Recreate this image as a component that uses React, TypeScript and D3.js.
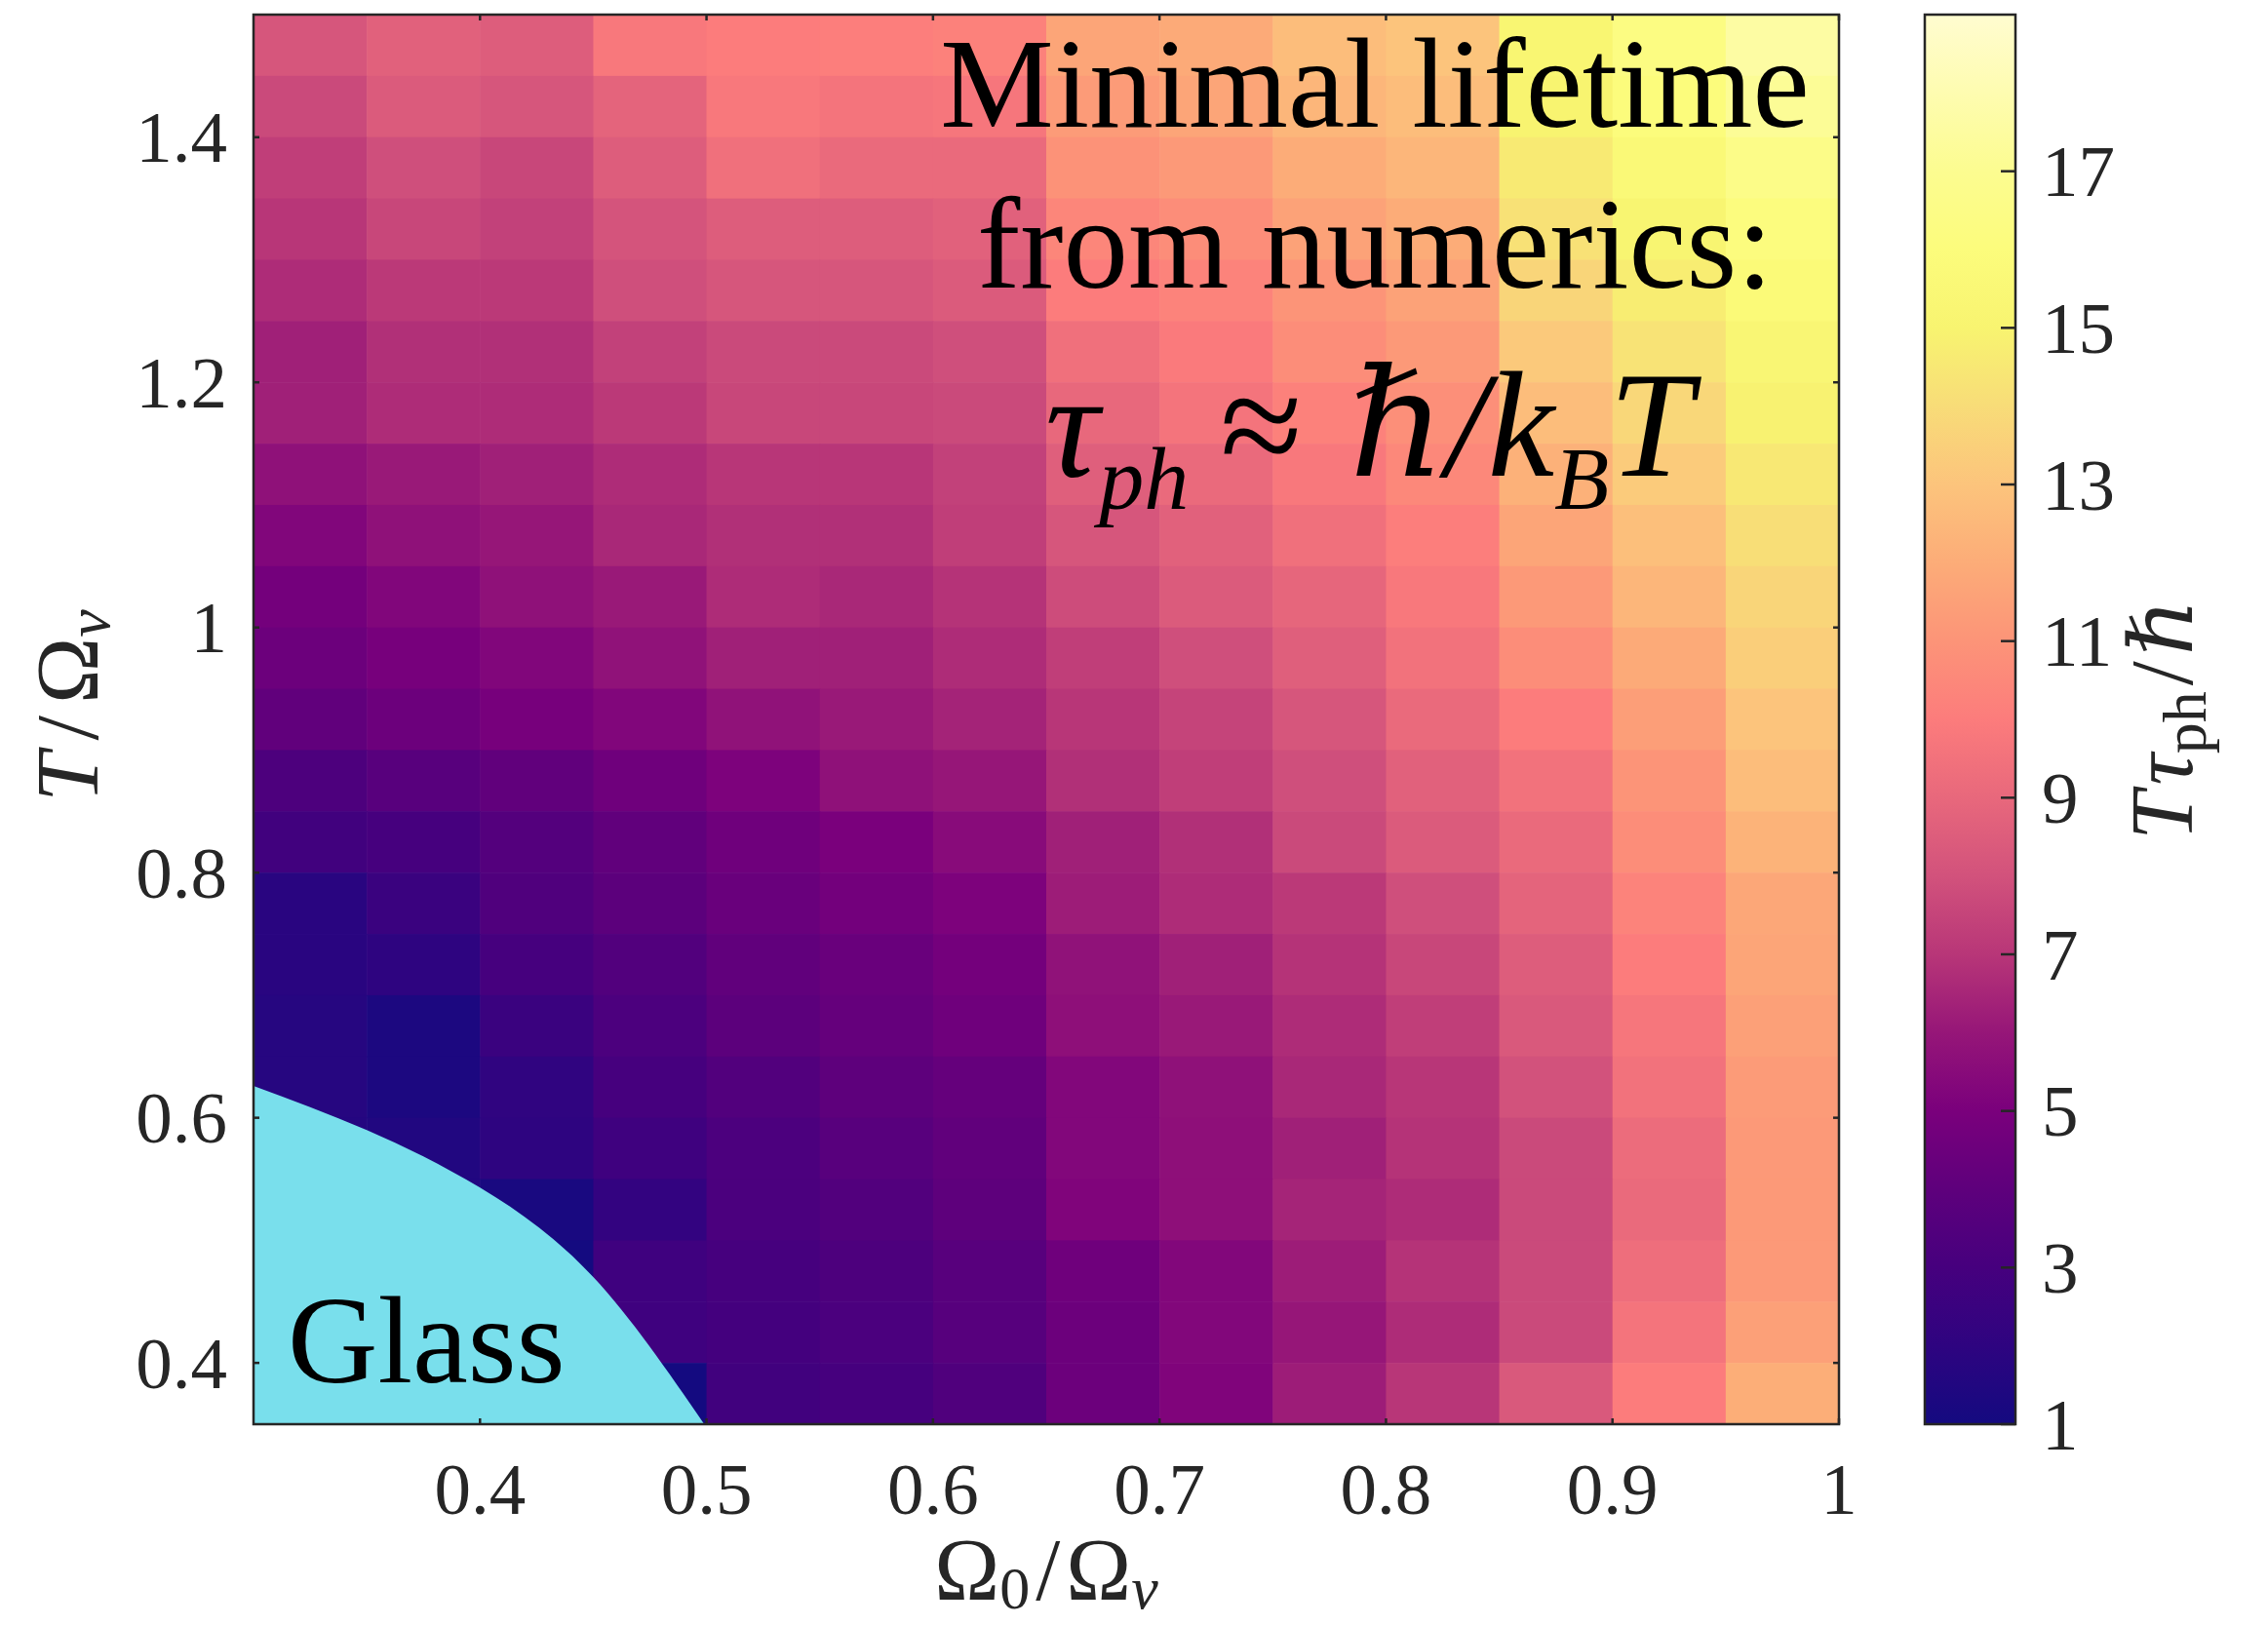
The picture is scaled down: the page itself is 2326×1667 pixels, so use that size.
import React, { useEffect, useRef } from "react";
import * as d3 from "d3";

// cell centres along Omega_0 / Omega_v (columns)
const omegaCenters = [0.325, 0.375, 0.425, 0.475, 0.525, 0.575, 0.625, 0.675, 0.725, 0.775, 0.825, 0.875, 0.925, 0.975];
// cell centres along T / Omega_v (rows, top to bottom)
const tempCenters = [
  1.475, 1.425, 1.375, 1.325, 1.275, 1.225, 1.175, 1.125, 1.075, 1.025, 0.975, 0.925,
  0.875, 0.825, 0.775, 0.725, 0.675, 0.625, 0.575, 0.525, 0.475, 0.425, 0.375,
];
const cellSize = 0.05;

// T * tau_ph / hbar, one row per temperature
const lifetime = [
  [8.2, 8.7, 8.5, 9.8, 10.0, 10.1, 10.2, 11.7, 11.9, 12.7, 13.0, 15.2, 16.3, 17.6],
  [7.7, 8.4, 8.2, 8.8, 9.8, 9.6, 9.7, 11.3, 11.7, 12.4, 12.7, 15.0, 16.0, 17.2],
  [7.3, 7.9, 7.6, 8.5, 9.4, 9.1, 9.1, 10.9, 11.2, 12.0, 12.4, 14.6, 15.6, 16.6],
  [7.0, 7.6, 7.4, 8.1, 8.5, 8.5, 8.7, 10.4, 10.7, 11.6, 12.0, 14.2, 15.1, 16.1],
  [6.7, 7.1, 7.1, 7.9, 8.2, 8.2, 8.4, 10.0, 10.3, 11.0, 11.6, 13.7, 14.7, 15.7],
  [6.3, 6.8, 6.8, 7.4, 7.7, 7.7, 7.9, 9.4, 9.9, 10.7, 11.2, 13.2, 14.3, 15.3],
  [6.3, 6.7, 6.7, 7.1, 7.6, 7.6, 7.7, 9.0, 9.6, 10.2, 10.8, 12.7, 13.8, 14.9],
  [5.75, 6.1, 6.3, 6.7, 7.0, 7.0, 7.4, 8.6, 9.1, 9.8, 10.5, 12.2, 13.3, 14.5],
  [5.25, 5.75, 6.0, 6.55, 6.8, 6.8, 7.3, 8.2, 8.7, 9.4, 10.1, 11.7, 12.8, 14.1],
  [4.8, 5.25, 5.75, 6.1, 6.7, 6.55, 6.9, 7.8, 8.4, 8.9, 9.8, 11.2, 12.4, 13.7],
  [4.5, 4.9, 5.25, 5.8, 6.3, 6.3, 6.7, 7.3, 7.9, 8.6, 9.5, 10.7, 11.9, 13.4],
  [4.1, 4.5, 4.9, 5.25, 5.8, 6.1, 6.4, 7.0, 7.5, 8.2, 9.1, 10.0, 11.4, 13.0],
  [3.3, 3.75, 4.1, 4.6, 5.1, 5.75, 6.0, 6.8, 7.3, 7.9, 8.7, 9.5, 11.0, 12.7],
  [2.8, 3.0, 3.6, 4.1, 4.6, 5.0, 5.5, 6.3, 6.8, 7.7, 8.4, 9.1, 10.7, 12.3],
  [1.8, 2.5, 3.4, 3.9, 4.4, 4.75, 5.1, 6.2, 6.7, 7.1, 7.9, 8.8, 10.3, 11.8],
  [1.8, 2.0, 3.0, 3.5, 4.1, 4.4, 4.8, 5.8, 6.3, 6.9, 7.6, 8.5, 10.0, 11.7],
  [1.7, 1.3, 2.5, 3.25, 3.9, 4.25, 4.6, 5.7, 6.1, 6.7, 7.3, 8.3, 9.7, 11.5],
  [1.7, 1.3, 2.1, 3.0, 3.5, 4.0, 4.25, 5.3, 5.75, 6.55, 7.0, 8.0, 9.5, 11.3],
  [1.6, 1.5, 2.0, 2.7, 3.25, 3.75, 4.1, 5.3, 5.7, 6.3, 6.9, 7.7, 9.2, 11.2],
  [1.6, 1.5, 1.2, 2.2, 3.2, 3.5, 4.0, 5.2, 5.7, 6.45, 6.7, 7.7, 9.1, 11.2],
  [1.6, 1.5, 1.0, 2.7, 3.0, 3.3, 3.75, 4.6, 5.3, 6.2, 6.9, 7.7, 9.3, 11.2],
  [1.6, 1.5, 1.2, 2.7, 2.9, 3.2, 3.7, 4.5, 5.3, 6.0, 6.7, 7.7, 9.6, 11.5],
  [1.6, 1.5, 1.2, 1.0, 2.8, 3.0, 3.4, 4.5, 5.2, 6.2, 7.0, 8.3, 10.0, 12.1],
];

// glass phase boundary
const glassOmega = [0.3, 0.35, 0.4, 0.45, 0.499];
const glassT = [0.626, 0.59, 0.543, 0.47, 0.35];

const xTicks = [0.4, 0.5, 0.6, 0.7, 0.8, 0.9, 1];
const xTickLabels = ["0.4", "0.5", "0.6", "0.7", "0.8", "0.9", "1"];
const yTicks = [0.4, 0.6, 0.8, 1, 1.2, 1.4];
const yTickLabels = ["0.4", "0.6", "0.8", "1", "1.2", "1.4"];
const cbTicks = [1, 3, 5, 7, 9, 11, 13, 15, 17];

// colormap sampled from the colour bar
const cmapValues = [1, 2, 3, 4, 5, 6, 7, 8, 9, 10, 11, 12, 13, 14, 15, 16, 17, 18, 19];
const cmapColors = [
  "#140a80", "#2e0480", "#46007e", "#5e007c", "#7a007c", "#961678", "#b83678",
  "#d2527c", "#e8687c", "#fc7c7c", "#fc9478", "#fcac78", "#fcc47c", "#f8dc78",
  "#f8f470", "#fcfc7c", "#fcfc90", "#fefcb0", "#fffcd0",
];

const SERIF = "'Liberation Serif', 'DejaVu Serif', serif";

const drawChart = (node) => {
  const svg = d3.select(node);
  svg.selectAll("*").remove();

  const plot = { left: 260, right: 1886, top: 15, bottom: 1461 };
  const cb = { left: 1974, right: 2067 };

  const x = d3.scaleLinear().domain([0.3, 1]).range([plot.left, plot.right]);
  const y = d3.scaleLinear().domain([0.35, 1.5]).range([plot.bottom, plot.top]);
  const color = d3.scaleLinear().domain(cmapValues).range(cmapColors).clamp(true);
  const cbY = d3.scaleLinear().domain([1, 19]).range([plot.bottom, plot.top]);

  svg.append("rect").attr("width", 2326).attr("height", 1667).attr("fill", "#ffffff");

  const defs = svg.append("defs");
  defs
    .append("clipPath")
    .attr("id", "plot-clip")
    .append("rect")
    .attr("x", plot.left)
    .attr("y", plot.top)
    .attr("width", plot.right - plot.left)
    .attr("height", plot.bottom - plot.top);

  // heatmap cells
  const cells = [];
  tempCenters.forEach((t, r) => {
    omegaCenters.forEach((o, c) => {
      cells.push({ o, t, v: lifetime[r][c] });
    });
  });

  const g = svg.append("g").attr("clip-path", "url(#plot-clip)");
  g.selectAll("rect.cell")
    .data(cells)
    .enter()
    .append("rect")
    .attr("class", "cell")
    .attr("x", (d) => x(d.o - cellSize / 2))
    .attr("y", (d) => y(d.t + cellSize / 2))
    .attr("width", (d) => x(d.o + cellSize / 2) - x(d.o - cellSize / 2) + 0.6)
    .attr("height", (d) => y(d.t - cellSize / 2) - y(d.t + cellSize / 2) + 0.6)
    .attr("fill", (d) => color(d.v));

  // glass region
  const glassPts = glassOmega.map((o, i) => [o, glassT[i]]);
  const area = d3
    .area()
    .x((d) => x(d[0]))
    .y0(y(0.35))
    .y1((d) => y(d[1]))
    .curve(d3.curveNatural);
  g.append("path").attr("d", area(glassPts)).attr("fill", "#79dfec");

  g.append("text")
    .attr("x", 295)
    .attr("y", 1418)
    .style("font-family", SERIF)
    .style("font-size", "128px")
    .attr("fill", "#000")
    .text("Glass");

  // annotation
  const ann = svg.append("g").style("font-family", SERIF).attr("fill", "#000");
  ann.append("text")
    .attr("x", 1410)
    .attr("y", 130)
    .attr("text-anchor", "middle")
    .style("font-size", "131px")
    .text("Minimal lifetime");
  ann.append("text")
    .attr("x", 1410)
    .attr("y", 295)
    .attr("text-anchor", "middle")
    .style("font-size", "133px")
    .text("from numerics:");

  const f = ann.append("text").attr("x", 1072).attr("y", 488).style("font-size", "154px");
  f.append("tspan").style("font-style", "italic").text("τ");
  f.append("tspan").style("font-style", "italic").style("font-size", "92px").attr("dy", 34).text("ph");
  f.append("tspan").attr("dy", -34).attr("dx", 32).text("≈");
  f.append("tspan").style("font-style", "italic").attr("dx", 48).text("ℏ/k");
  f.append("tspan").style("font-style", "italic").style("font-size", "92px").attr("dy", 34).text("B");
  f.append("tspan").style("font-style", "italic").attr("dy", -34).text("T");

  // frame and small inward ticks
  const frame = svg.append("g").attr("stroke", "#262626").attr("stroke-width", 2.5);
  xTicks.forEach((t) => {
    frame.append("line").attr("x1", x(t)).attr("x2", x(t)).attr("y1", plot.bottom).attr("y2", plot.bottom - 6);
    frame.append("line").attr("x1", x(t)).attr("x2", x(t)).attr("y1", plot.top).attr("y2", plot.top + 6);
  });
  yTicks.forEach((t) => {
    frame.append("line").attr("x1", plot.left).attr("x2", plot.left + 6).attr("y1", y(t)).attr("y2", y(t));
    frame.append("line").attr("x1", plot.right).attr("x2", plot.right - 6).attr("y1", y(t)).attr("y2", y(t));
  });
  frame
    .append("rect")
    .attr("x", plot.left)
    .attr("y", plot.top)
    .attr("width", plot.right - plot.left)
    .attr("height", plot.bottom - plot.top)
    .attr("fill", "none");

  // tick labels
  const labels = svg.append("g").style("font-family", SERIF).style("font-size", "75px").attr("fill", "#262626");
  xTicks.forEach((t, i) => {
    labels.append("text").attr("x", x(t)).attr("y", 1553).attr("text-anchor", "middle").text(xTickLabels[i]);
  });
  yTicks.forEach((t, i) => {
    labels
      .append("text")
      .attr("x", 233)
      .attr("y", y(t))
      .attr("dy", "0.34em")
      .attr("text-anchor", "end")
      .text(yTickLabels[i]);
  });

  // axis titles
  const xl = svg
    .append("text")
    .attr("x", (plot.left + plot.right) / 2)
    .attr("y", 1641)
    .attr("text-anchor", "middle")
    .style("font-family", SERIF)
    .style("font-size", "90px")
    .attr("fill", "#262626");
  xl.append("tspan").text("Ω");
  xl.append("tspan").style("font-size", "62px").attr("dy", 9).text("0");
  xl.append("tspan").attr("dy", -9).attr("dx", 6).text("/");
  xl.append("tspan").attr("dx", 6).text("Ω");
  xl.append("tspan").style("font-size", "62px").style("font-style", "italic").attr("dy", 9).text("v");

  const yl = svg
    .append("text")
    .attr("transform", `translate(100, ${(plot.top + plot.bottom) / 2 - 14}) rotate(-90)`)
    .attr("text-anchor", "middle")
    .style("font-family", SERIF)
    .style("font-size", "92px")
    .attr("fill", "#262626");
  yl.append("tspan").style("font-style", "italic").text("T");
  yl.append("tspan").attr("dx", 12).text("/");
  yl.append("tspan").attr("dx", 12).text("Ω");
  yl.append("tspan").style("font-size", "64px").style("font-style", "italic").attr("dy", 12).text("v");

  // colour bar
  const grad = defs
    .append("linearGradient")
    .attr("id", "cb-grad")
    .attr("x1", 0)
    .attr("y1", 1)
    .attr("x2", 0)
    .attr("y2", 0);
  cmapValues.forEach((v, i) => {
    grad
      .append("stop")
      .attr("offset", (v - 1) / 18)
      .attr("stop-color", cmapColors[i]);
  });
  svg
    .append("rect")
    .attr("x", cb.left)
    .attr("y", plot.top)
    .attr("width", cb.right - cb.left)
    .attr("height", plot.bottom - plot.top)
    .attr("fill", "url(#cb-grad)")
    .attr("stroke", "#262626")
    .attr("stroke-width", 2.5);

  const cbAxis = svg.append("g");
  cbTicks.forEach((t) => {
    cbAxis
      .append("line")
      .attr("x1", cb.right)
      .attr("x2", cb.right - 15)
      .attr("y1", cbY(t))
      .attr("y2", cbY(t))
      .attr("stroke", "#262626")
      .attr("stroke-width", 2.5);
    cbAxis
      .append("text")
      .attr("x", 2094)
      .attr("y", cbY(t))
      .attr("dy", "0.34em")
      .style("font-family", SERIF)
      .style("font-size", "75px")
      .attr("fill", "#262626")
      .text(t);
  });

  const cl = svg
    .append("text")
    .attr("transform", `translate(2248, ${(plot.top + plot.bottom) / 2}) rotate(-90)`)
    .attr("text-anchor", "middle")
    .style("font-family", SERIF)
    .style("font-size", "90px")
    .attr("fill", "#262626");
  cl.append("tspan").style("font-style", "italic").text("T");
  cl.append("tspan").style("font-style", "italic").attr("dx", 6).text("τ");
  cl.append("tspan").style("font-size", "64px").attr("dy", 14).text("ph");
  cl.append("tspan").attr("dy", -14).attr("dx", 6).text("/");
  cl.append("tspan").attr("dx", 6).text("ℏ");
};

const App = () => {
  const svgRef = useRef(null);

  useEffect(() => {
    drawChart(svgRef.current);
  }, []);

  return (
    <svg
      ref={svgRef}
      width="2326"
      height="1667"
      style={{ position: "absolute", left: 0, top: 0, display: "block" }}
    ></svg>
  );
};

export default App;
